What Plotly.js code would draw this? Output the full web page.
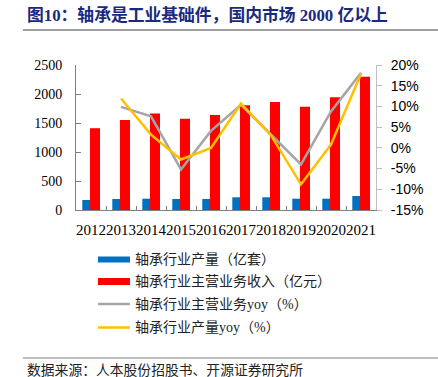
<!DOCTYPE html>
<html><head><meta charset="utf-8">
<script src="https://cdn.plot.ly/plotly-3.0.1.min.js"></script>
<style>html,body{margin:0;padding:0;background:#fff}#c{width:438px;height:377px}</style>
</head><body><div id="c"></div>
<script>
const years = ['2012','2013','2014','2015','2016','2017','2018','2019','2020','2021'];
const outputQty = [172, 190, 195, 190, 190, 219, 219, 195, 195, 241];
const revenue = [1410, 1550, 1665, 1575, 1638, 1805, 1862, 1781, 1945, 2296];
const revenueYoy = [null, 9.9, 7.6, -5.2, 4.1, 10.4, 3.3, -4.0, 8.8, 18.1];
const outputYoy = [null, 11.9, 3.2, -2.8, 0.0, 10.7, 3.0, -8.8, 0.8, 17.9];
const seriesNames = ['轴承行业产量（亿套）','轴承行业主营业务收入（亿元）','轴承行业主营业务yoy（%）','轴承行业产量yoy（%）'];
const leftTicks = [0, 500, 1000, 1500, 2000, 2500];
const rightTicks = [-15, -10, -5, 0, 5, 10, 15, 20];
const titleText = '图10：轴承是工业基础件，国内市场 2000 亿以上';
const sourceText = '数据来源：人本股份招股书、开源证券研究所';

const colors = ['#0070C0', '#FF0000', '#A5A5A5', '#FFC000'];
const serif = '"Liberation Serif", "Times New Roman", "Noto Sans CJK SC", serif';

const traces = [
  {type:'bar', x:years, y:outputQty, name:seriesNames[0], marker:{color:colors[0]}, offset:-0.29, width:0.26, yaxis:'y'},
  {type:'bar', x:years, y:revenue, name:seriesNames[1], marker:{color:colors[1]}, offset:-0.035, width:0.335, yaxis:'y'},
  {type:'scatter', mode:'lines', x:years, y:revenueYoy, name:seriesNames[2], line:{color:colors[2], width:2.5}, yaxis:'y2'},
  {type:'scatter', mode:'lines', x:years, y:outputYoy, name:seriesNames[3], line:{color:colors[3], width:2.5}, yaxis:'y2'}
];

const legY = [259.5, 281.5, 304, 327.5];
const shapes = [
  {type:'line', xref:'paper', yref:'paper', x0:-0.177, x1:1.207, y0:(210-30)/145, y1:(210-30)/145, line:{color:'#7F7F7F', width:1.5}},
  {type:'line', xref:'paper', yref:'paper', x0:-0.177, x1:1.207, y0:(210-358)/145, y1:(210-358)/145, line:{color:'#7F7F7F', width:1}}
];
const annotations = [
  {xref:'paper', yref:'paper', x:(25-76)/300, y:(210-15)/145, xanchor:'left', yanchor:'middle', showarrow:false,
   text:'<b>'+titleText+'</b>', font:{family:serif, size:16.8, color:'#1A2A7E'}},
  {xref:'paper', yref:'paper', x:(25-76)/300, y:(210-370)/145, xanchor:'left', yanchor:'middle', showarrow:false,
   text:sourceText, font:{family:serif, size:13.8, color:'#222'}}
];
seriesNames.forEach((nm, i) => {
  const yp = (210 - legY[i]) / 145;
  if (i < 2) {
    const h = (i === 0 ? 6 : 7) / 145;
    shapes.push({type:'rect', xref:'paper', yref:'paper', x0:(98-76)/300, x1:(130-76)/300, y0:yp-h/2, y1:yp+h/2, fillcolor:colors[i], line:{width:0}});
  } else {
    shapes.push({type:'line', xref:'paper', yref:'paper', x0:(98-76)/300, x1:(130-76)/300, y0:yp, y1:yp, line:{color:colors[i], width:2.5}});
  }
  annotations.push({xref:'paper', yref:'paper', x:(133-76)/300, y:yp, xanchor:'left', yanchor:'middle', showarrow:false,
    text:nm, font:{family:serif, size:14, color:'#222'}});
});

const layout = {
  width:438, height:377,
  margin:{l:76, r:62, t:65, b:167, pad:0},
  paper_bgcolor:'#fff', plot_bgcolor:'#fff',
  showlegend:false,
  barmode:'overlay',
  font:{family:serif, size:14, color:'#000'},
  xaxis:{type:'category', showgrid:false, zeroline:false, showline:true, linecolor:'#7F7F7F', linewidth:1,
    ticks:'inside', ticklen:4, tickcolor:'#7F7F7F', tickson:'boundaries', ticklabelstandoff:6, tickangle:0,
    tickfont:{family:serif, size:15, color:'#000'}, fixedrange:true},
  yaxis:{range:[0,2500], tickvals:leftTicks, showgrid:false, zeroline:false, showline:true, linecolor:'#7F7F7F', linewidth:1,
    ticks:'inside', ticklen:5, tickcolor:'#7F7F7F', ticklabelstandoff:10,
    tickfont:{family:serif, size:14, color:'#000'}},
  yaxis2:{range:[-15,20], tickvals:rightTicks, ticktext:rightTicks.map(v=>v+'%'), overlaying:'y', side:'right',
    showgrid:false, zeroline:false, showline:true, linecolor:'#BFBFBF', linewidth:1,
    ticks:'outside', ticklen:5, tickcolor:'#BFBFBF', ticklabelstandoff:6,
    tickfont:{family:'"Liberation Sans", Arial, sans-serif', size:14, color:'#000'}},
  shapes:shapes,
  annotations:annotations
};
Plotly.newPlot('c', traces, layout, {staticPlot:true, displayModeBar:false});
</script></body></html>
